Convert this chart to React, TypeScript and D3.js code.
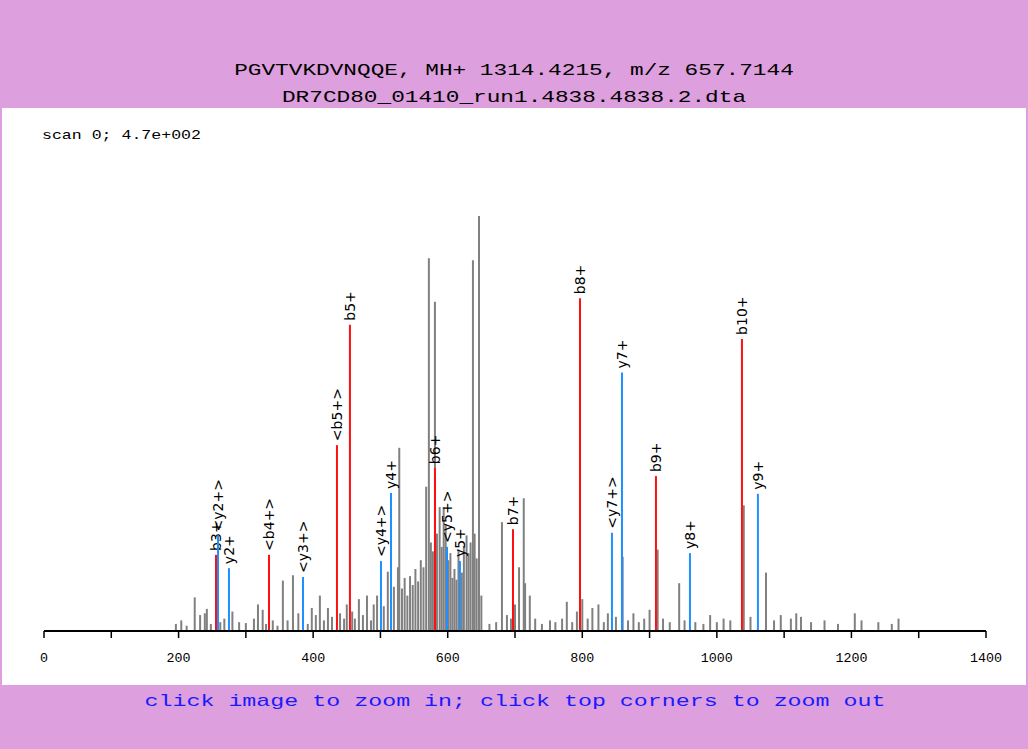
import React from "react";
import * as d3 from "d3";

const titleLines = [
  "PGVTVKDVNQQE, MH+ 1314.4215, m/z 657.7144",
  "DR7CD80_01410_run1.4838.4838.2.dta",
];
const scanLabel = "scan 0; 4.7e+002";
const footer = "click image to zoom in; click top corners to zoom out";

// annotated fragment ions: label, m/z, intensity, ion type
const ionLabels = ["b3+", "<y2+>", "y2+", "<b4+>", "<y3+>", "<b5+>", "b5+", "<y4+>", "y4+", "b6+", "<y5+>", "y5+", "b7+", "b8+", "<y7+>", "y7+", "b9+", "y8+", "b10+", "y9+"];
const ionMz = [255.6, 258.6, 274.9, 334.4, 384.9, 435.4, 454.7, 500.8, 515.7, 581.1, 598.9, 618.2, 697, 796.6, 844.1, 859, 909.5, 960, 1037.3, 1061];
const ionInt = [86, 108, 71, 86, 61, 210, 346, 79, 156, 184, 95, 79, 115, 376, 111, 292, 175, 88, 330, 155];
const ionType = ["b", "y", "y", "b", "y", "b", "b", "y", "y", "b", "y", "y", "b", "b", "y", "y", "b", "y", "b", "y"];

// unassigned peaks
const peakMz = [
  196, 204, 212, 224, 232, 239, 242, 248, 262, 268, 280, 290, 300, 312, 318, 325, 330, 340, 347, 355, 362, 370, 378, 392, 398, 404, 410, 416, 422, 428, 440, 446, 450, 458, 462, 468, 474, 480, 486, 490, 495, 505, 511, 520, 526, 528, 532, 536, 540, 544, 548, 552, 556, 560, 564, 568, 572, 575, 578, 581, 584, 588, 591, 594, 597, 601, 604, 607, 610, 613, 616, 621, 624, 628, 631, 634, 637.5, 640, 643, 646.5, 650,
  662, 672, 680.6, 688, 694, 700, 706, 713, 715, 722, 730, 740, 752, 760, 770, 777, 785, 792, 800, 808, 815, 824, 832, 838, 850, 860, 868, 876, 884, 892, 900, 912, 920, 930, 944, 952, 968, 980, 990, 1000, 1010, 1020, 1040, 1050, 1073, 1085, 1095, 1110, 1118, 1125, 1140, 1160, 1180, 1205, 1215, 1240, 1260, 1270,
];
const peakInt = [
  8, 12, 6, 38, 18, 20, 25, 8, 10, 14, 22, 10, 9, 14, 30, 24, 8, 12, 6, 57, 12, 63, 20, 8, 26, 18, 40, 12, 26, 16, 20, 14, 30, 22, 14, 36, 18, 40, 12, 30, 40, 28, 67, 50, 72, 207, 48, 60, 40, 62, 52, 70, 56, 80, 72, 163, 421, 100, 90, 372, 110, 140, 95, 140, 120, 80, 88, 60, 70, 58, 92, 66, 96, 108, 88, 100, 419, 110, 82, 469, 40,
  8, 10, 123, 18, 14, 30, 72, 150, 54, 40, 14, 8, 12, 10, 14, 33, 10, 22, 36, 14, 26, 30, 10, 20, 16, 84, 12, 20, 10, 14, 24, 92, 14, 10, 54, 12, 10, 8, 18, 10, 14, 12, 142, 16, 66, 12, 18, 14, 20, 16, 10, 12, 8, 20, 12, 10, 8, 14,
];

const xTicks = d3.range(0, 1401, 100);

export default function App() {
  const x = d3.scaleLinear().domain([0, 1400]).range([44, 986]);
  const y = d3.scaleLinear().domain([0, 470]).range([631, 215]);
  const mono = "'Liberation Mono', 'DejaVu Sans Mono', monospace";
  const ions = ionMz.map((m, i) => ({ m, v: ionInt[i], label: ionLabels[i], type: ionType[i] }));
  const peaks = peakMz.map((m, i) => ({ m, v: peakInt[i] }));

  return (
    <svg width={1028} height={749} style={{ position: "absolute", left: 0, top: 0 }}>
      <rect x={0} y={0} width={1028} height={749} fill="#dd9fdd" />
      <rect x={2} y={108} width={1024} height={577} fill="#ffffff" />
      {titleLines.map((t, i) => (
        <text key={i} x={514} y={75 + i * 27} textAnchor="middle" fontFamily={mono} fontSize={17}
          textLength={t.length * 13.65} lengthAdjust="spacingAndGlyphs" fill="#000">{t}</text>
      ))}
      <text x={42} y={139} fontFamily={mono} fontSize={13} textLength={159} lengthAdjust="spacingAndGlyphs" fill="#000">{scanLabel}</text>
      {peaks.map((p, i) => (
        <line key={"p" + i} x1={x(p.m)} x2={x(p.m)} y1={y(0)} y2={y(p.v)} stroke="#808080" strokeWidth={2} />
      ))}
      {ions.map((p, i) => (
        <g key={"i" + i}>
          <line x1={x(p.m)} x2={x(p.m)} y1={y(0)} y2={y(p.v)} stroke={p.type === "b" ? "#ff1010" : "#1e90ff"} strokeWidth={2} />
          <text transform={`translate(${x(p.m) + 5},${y(p.v) - 4}) rotate(-90)`} fontFamily="'DejaVu Sans', sans-serif" fontSize={14} fill="#000">{p.label}</text>
        </g>
      ))}
      <line x1={x(0)} x2={x(1400)} y1={y(0)} y2={y(0)} stroke="#000" strokeWidth={2} />
      {xTicks.map((t) => (
        <g key={t}>
          <line x1={x(t)} x2={x(t)} y1={y(0)} y2={y(0) + 7} stroke="#000" strokeWidth={1.5} />
          {t % 200 === 0 && (
            <text x={x(t)} y={y(0) + 31} textAnchor="middle" fontFamily={mono} fontSize={13}
              textLength={String(t).length * 8} lengthAdjust="spacingAndGlyphs" fill="#000">{t}</text>
          )}
        </g>
      ))}
      <text x={515} y={706} textAnchor="middle" fontFamily={mono} fontSize={17}
        textLength={741} lengthAdjust="spacingAndGlyphs" fill="#1a1aff">{footer}</text>
    </svg>
  );
}
